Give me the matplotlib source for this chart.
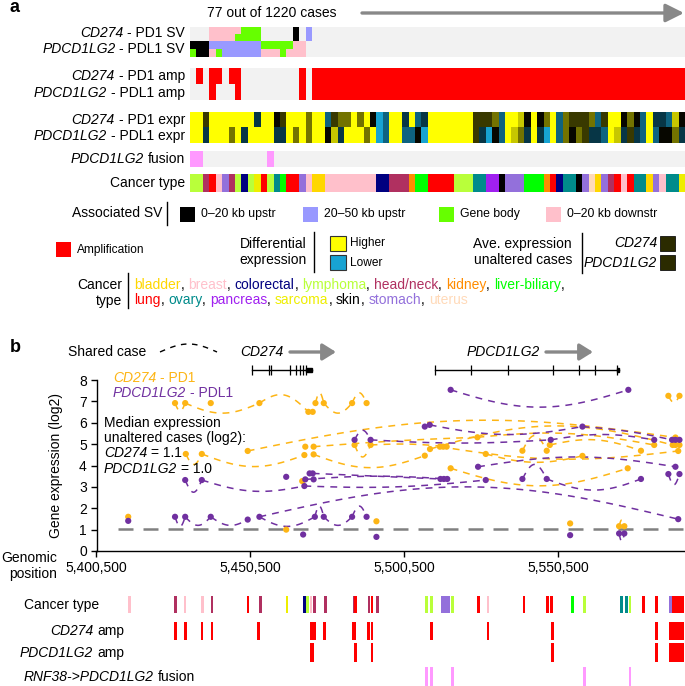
import numpy as np
import matplotlib
matplotlib.use("Agg")
import matplotlib.pyplot as plt
from matplotlib.colors import LinearSegmentedColormap, to_rgb
from matplotlib.patches import Rectangle, FancyArrowPatch
from matplotlib.lines import Line2D

plt.rcParams['font.family'] = ['Liberation Sans', 'DejaVu Sans']
plt.rcParams['font.size'] = 10

# ---------------- panel a data (77 cases) ----------------
n_cases = 77
# SV rows, two half-rows per gene: . none, k 0-20kb upstr, b 20-50kb upstr, g gene body, p 0-20kb downstr
cd274_sv_top = "...pppppggg.....k.b"
cd274_sv_bot = "...ppppgggg.....k.b"
pdcd_sv_top = "kkkbbbbbbbbgggggpp"
pdcd_sv_bot = "gkkpgbbbbbbpppgppp"
cd274_amp = ".r.rr.rr.........r." + "r" * 58
pdcd_amp = "...r...r.........r." + "r" * 58
# expression levels: Y high ... k average ... c low
cd274_expr = "YYdYYYYYYY" "nYYkdYYYoY" "YtdooYoYkc" "tYYnYtnYYY" "YYYYdddotY" "YykYkoYtod" "ddotdYYkok" "tYnntyk"
pdcd_expr = "YYnYYYoYnY" "YYYnnYoYoY" "YkynYYYoYc" "tYYttkcYYY" "YYYYdncktY" "yonYncYtok" "odnntYyndn" "tYtkkon"
expr_level = {'Y': 1.0, 'y': 0.78, 'o': 0.45, 'd': 0.22, 'k': 0.03, 'n': -0.3, 't': -0.55, 'c': -0.9}
ave_expr_cd274 = 0.17
ave_expr_pdcd = 0.17
fusion_cases = [0, 1, 12]
cancer_type = ("lym lym hn lun bre sto hn lym col lym sar lun lym ova liv lun lun sto bre bla bla "
               "bre bre bre bre bre bre bre bre col col hn hn hn kid liv liv lun lun lun lun lym lym lym "
               "ova ova pan pan ski sto sto sto liv liv liv kid lun col ova ova ski sto ute bla sto hn lun "
               "bre lun ova ova bla sto bre ova ova sar").split()

cancer_names = {'bla': 'bladder', 'bre': 'breast', 'col': 'colorectal', 'lym': 'lymphoma',
                'hn': 'head/neck', 'kid': 'kidney', 'liv': 'liver-biliary', 'lun': 'lung',
                'ova': 'ovary', 'pan': 'pancreas', 'sar': 'sarcoma', 'ski': 'skin',
                'sto': 'stomach', 'ute': 'uterus'}
cancer_colors = {'bla': '#FFD700', 'bre': '#FFC0CB', 'col': '#000080', 'lym': '#B9FF3A',
                 'hn': '#B03060', 'kid': '#FF8C00', 'liv': '#00FF00', 'lun': '#FF0000',
                 'ova': '#008B8B', 'pan': '#A020F0', 'sar': '#EEEE00', 'ski': '#000000',
                 'sto': '#9370DB', 'ute': '#FFDAB9'}
sv_colors = {'.': '#F2F2F2', 'k': '#000000', 'b': '#9999FF', 'g': '#66FF00', 'p': '#FFC0CB'}
sv_legend = [('k', '0\u201320 kb upstr'), ('b', '20\u201350 kb upstr'), ('g', 'Gene body'), ('p', '0\u201320 kb downstr')]

# ---------------- panel b data ----------------
x_min, x_max = 5400500, 5591600
x_ticks = [5400500, 5450500, 5500500, 5550500]
median_line = 1.05
cd274_pos = [5410800, 5426000, 5429300, 5437600, 5453400, 5469300, 5470700, 5471600, 5474300, 5483500, 5488200,
             5429500, 5434700, 5449600, 5468000, 5468300, 5471000, 5471000, 5484300, 5489500, 5467300, 5462100, 5491400,
             5586200, 5589800, 5524200, 5508800, 5512000, 5513100, 5514200, 5507100, 5526900, 5515500, 5538800, 5546700,
             5547700, 5558300, 5577300, 5581600, 5587600, 5588500, 5589800, 5588500, 5589400, 5573000, 5554300, 5570200, 5571900]
cd274_val = [1.60, 6.92, 6.92, 6.92, 6.92, 6.51, 6.51, 6.92, 6.92, 6.92, 6.92,
             4.54, 4.54, 4.68, 4.49, 4.88, 4.88, 4.52, 4.96, 4.96, 3.27, 1.00, 1.39,
             7.26, 7.26, 5.32, 4.77, 4.88, 4.88, 4.88, 4.46, 4.54, 3.87, 4.69, 4.69,
             4.96, 4.45, 4.69, 4.96, 4.96, 4.96, 4.96, 5.31, 4.68, 3.87, 1.29, 1.16, 1.16]
pdcd_pos = [5410800, 5426000, 5429300, 5437600, 5449600, 5453400, 5429300, 5434700, 5462100, 5469700, 5470700,
            5468300, 5471000, 5468000, 5471400, 5474300, 5483500, 5488200, 5467600, 5491400, 5484300, 5489500,
            5515500, 5573200, 5507100, 5508700, 5558300, 5548000, 5581600, 5587400, 5588500, 5589800, 5524400,
            5588500, 5512200, 5513300, 5514400, 5526900, 5538800, 5546700, 5577300, 5586200, 5589800, 5589400,
            5554300, 5570200, 5571900]
pdcd_val = [1.41, 1.60, 1.60, 1.60, 1.47, 1.60, 3.32, 3.32, 3.47, 3.63, 3.63,
            3.35, 3.35, 3.04, 1.60, 1.60, 1.60, 1.60, 0.77, 0.66, 5.20, 5.20,
            7.54, 7.54, 5.82, 5.90, 5.82, 5.20, 5.20, 5.20, 5.20, 5.20, 3.94,
            3.94, 3.37, 3.37, 3.37, 3.32, 3.37, 3.37, 3.37, 3.60, 3.60, 1.49,
            0.74, 0.82, 0.82]
# shared-case links: (pos1, val1, pos2, val2, value at the middle of the arc)
cd274_arcs = [(5426000, 6.92, 5429300, 6.92, 6.55), (5429300, 6.92, 5453400, 6.92, 6.45),
              (5453400, 6.92, 5469300, 6.51, 7.30), (5471600, 6.92, 5474300, 6.92, 7.40),
              (5474300, 6.92, 5483500, 6.92, 6.45), (5483500, 6.92, 5488200, 6.92, 7.40),
              (5429500, 4.54, 5434700, 4.54, 4.05), (5434700, 4.54, 5468000, 4.49, 3.95),
              (5449600, 4.68, 5588500, 5.31, 6.10), (5471000, 4.88, 5524200, 5.32, 5.15),
              (5524200, 5.32, 5581600, 4.96, 5.50), (5508800, 4.77, 5587600, 4.96, 5.85),
              (5538800, 4.69, 5546700, 4.69, 5.40), (5515500, 3.87, 5573000, 3.87, 3.05),
              (5471000, 4.52, 5507100, 4.46, 3.90), (5489500, 4.96, 5514200, 4.88, 5.00),
              (5484300, 4.96, 5489500, 4.96, 4.40), (5526900, 4.54, 5558300, 4.45, 4.15),
              (5547700, 4.96, 5577300, 4.69, 5.20), (5586200, 7.26, 5589800, 7.26, 6.95),
              (5570200, 1.16, 5571900, 1.16, 1.45), (5512000, 4.88, 5589400, 4.68, 4.30)]
pdcd_arcs = [(5515500, 7.54, 5573200, 7.54, 6.73), (5508700, 5.90, 5558300, 5.82, 5.45),
             (5558300, 5.82, 5587400, 5.20, 5.60), (5484300, 5.20, 5489500, 5.20, 5.65),
             (5489500, 5.20, 5548000, 5.20, 5.05), (5548000, 5.20, 5581600, 5.20, 5.45),
             (5524400, 3.94, 5588500, 3.94, 4.40), (5470700, 3.63, 5512200, 3.37, 3.50),
             (5468000, 3.04, 5526900, 3.32, 3.00), (5538800, 3.37, 5546700, 3.37, 4.05),
             (5546700, 3.37, 5577300, 3.37, 2.85), (5586200, 3.60, 5589800, 3.60, 3.10),
             (5570200, 0.82, 5571900, 0.82, 0.45), (5453400, 1.60, 5589400, 1.49, 3.00),
             (5434700, 3.32, 5468000, 3.04, 2.80), (5429300, 3.32, 5434700, 3.32, 2.75),
             (5426000, 1.60, 5429300, 1.60, 1.15), (5429300, 1.60, 5437600, 1.60, 1.20),
             (5437600, 1.60, 5449600, 1.47, 1.20), (5453400, 1.60, 5471400, 1.60, 1.15),
             (5471400, 1.60, 5474300, 1.60, 2.10), (5474300, 1.60, 5483500, 1.60, 1.20),
             (5483500, 1.60, 5488200, 1.60, 2.10), (5468300, 3.35, 5514400, 3.37, 3.50)]
cd274_gene = (5450856, 5470400)
cd274_exons = [5450856, 5456420, 5457260, 5463280, 5465400, 5466570, 5467540, 5468550]
pdcd_gene = (5510350, 5570200)
pdcd_exons = [5510350, 5522190, 5534200, 5548610, 5557160, 5562440, 5569560]
ct_track_pos = [5411200, 5426200, 5429200, 5434900, 5438000, 5449700, 5453700, 5462300, 5468000, 5469100,
                5470100, 5471300, 5474800, 5484100, 5484700, 5489000, 5490000, 5491800, 5507600, 5509300,
                5512800, 5513900, 5514900, 5516100, 5524600, 5527600, 5539300, 5547000, 5548200, 5555000,
                5559000, 5571000, 5572700, 5573700, 5578100, 5582400, 5586800, 5587800, 5588800, 5589800, 5590800]
ct_track_type = ['bre', 'hn', 'bre', 'bre', 'hn', 'lun', 'hn', 'sar', 'col', 'lym',
                 'bre', 'hn', 'hn', 'hn', 'lun', 'hn', 'lun', 'hn', 'lym', 'lym',
                 'sto', 'sto', 'sto', 'lym', 'lun', 'bre', 'lun', 'lun', 'lun', 'liv',
                 'lym', 'ova', 'ova', 'lym', 'lun', 'lun', 'sto', 'lun', 'lun', 'lun', 'lun']
cd274_amp_pos = [5426200, 5429400, 5434700, 5438000, 5453200, 5470100, 5470800, 5471500, 5474600, 5483900,
                 5484500, 5488800, 5490000, 5509300, 5527600, 5548500, 5582400, 5586800, 5587800, 5588800,
                 5589800, 5590800]
pdcd_amp_pos = [5470100, 5470800, 5484700, 5490000, 5548500, 5582400, 5586800, 5587800, 5588800, 5589800, 5590800]
rnf38_fusion_pos = [5507600, 5509300, 5516100, 5559000, 5573800]

orange = '#FDB515'
purple = '#7030A0'
amp_red = '#FF0000'
fusion_pink = '#FF99FF'
bg = '#F2F2F2'
expr_cmap = LinearSegmentedColormap.from_list('expr', [(0, '#1AB4E8'), (0.5, '#000000'), (1, '#FFFF00')])

# ---------------- helpers (pixel layout) ----------------
W, H = 685, 686
fig = plt.figure(figsize=(W / 100, H / 100), dpi=100)
renderer = fig.canvas.get_renderer()


def fx(x):
    return x / W


def fy(y):
    return 1 - y / H


def box(x0, y0, x1, y1):
    return fig.add_axes([fx(x0), fy(y1), (x1 - x0) / W, (y1 - y0) / H])


def rect(x0, y0, x1, y1, fc, ec='none', lw=0.6):
    fig.add_artist(Rectangle((fx(x0), fy(y1)), (x1 - x0) / W, (y1 - y0) / H,
                             transform=fig.transFigure, facecolor=fc, edgecolor=ec, lw=lw))


def vline(x, y0, y1, lw=1.0):
    fig.add_artist(Line2D([fx(x), fx(x)], [fy(y0), fy(y1)], transform=fig.transFigure, color='black', lw=lw))


def arrow(x0, x1, y, hl, hw):
    fig.add_artist(FancyArrowPatch((fx(x0), fy(y)), (fx(x1), fy(y)), transform=fig.transFigure,
                                   arrowstyle=f'-|>,head_length={hl},head_width={hw}', mutation_scale=10,
                                   color='#888888', lw=2.4, shrinkA=0, shrinkB=0))


def label(x, y, s, **kw):
    kw.setdefault('va', 'center')
    return fig.text(fx(x), fy(y), s, **kw)


def width_of(s, **kw):
    t = fig.text(0, 0, s, **kw)
    w = t.get_window_extent(renderer).width
    t.remove()
    return w


def rich(x, y, parts, ha='left', **kw):
    # parts: (text, fontstyle); consecutive parts are separated by one space
    texts = [label(x, y, s, ha='left', fontstyle=st, **kw) for s, st in parts]
    sp = width_of('a a', **kw) - width_of('aa', **kw)
    widths = [t.get_window_extent(renderer).width for t in texts]
    total = sum(widths) + sp * (len(parts) - 1)
    x0 = x - total if ha == 'right' else x
    for t, w in zip(texts, widths):
        t.set_x(fx(x0))
        x0 += w + sp


def gene_label(gene, rest):
    return [(gene, 'italic'), (rest, 'normal')]


def track(y0, y1, rows, **kw):
    ax = box(190, y0, 685, y1)
    ax.imshow(np.array(rows), aspect='auto', interpolation='nearest',
              extent=(0, n_cases, len(rows), 0), **kw)
    ax.set_xlim(0, n_cases)
    ax.set_ylim(len(rows), 0)
    ax.axis('off')
    return ax


# ---------------- panel a ----------------
label(10, 7, 'a', fontsize=13, fontweight='bold', ha='left')
label(272, 13, '77 out of 1220 cases', ha='center')
arrow(362, 684, 13, 1.1, 0.55)

sv_rows = [[to_rgb(sv_colors[c]) for c in s.ljust(n_cases, '.')]
           for s in (cd274_sv_top, cd274_sv_bot, pdcd_sv_top, pdcd_sv_bot)]
track(26.7, 56.7, sv_rows)
amp_rows = [[to_rgb(amp_red) if c == 'r' else to_rgb(bg) for c in s] for s in (cd274_amp, pdcd_amp)]
track(68.3, 100, amp_rows)
expr_rows = [[expr_level[c] for c in s] for s in (cd274_expr, pdcd_expr)]
track(112.3, 143.3, expr_rows, cmap=expr_cmap, vmin=-1, vmax=1)
fus_rows = [[to_rgb(fusion_pink) if i in fusion_cases else to_rgb(bg) for i in range(n_cases)]]
track(150.7, 166.7, fus_rows)
ct_rows = [[to_rgb(cancer_colors[c]) for c in cancer_type]]
track(174, 192.3, ct_rows)

row_labels = [(33, 'CD274', '- PD1 SV'), (49, 'PDCD1LG2', '- PDL1 SV'),
              (76, 'CD274', '- PD1 amp'), (93, 'PDCD1LG2', '- PDL1 amp'),
              (120, 'CD274', '- PD1 expr'), (136, 'PDCD1LG2', '- PDL1 expr'),
              (159, 'PDCD1LG2', 'fusion')]
for yy, g, s in row_labels:
    rich(185, yy, gene_label(g, s), ha='right')
label(185, 183, 'Cancer type', ha='right')

# legends
label(162, 213, 'Associated SV', ha='right')
vline(167, 202, 225)
for (code, txt), xx in zip(sv_legend, [180, 303, 439, 546]):
    rect(xx, 207, xx + 15, 222, sv_colors[code])
    label(xx + 21, 214, txt, fontsize=8.8, ha='left')

rect(56, 242, 71, 257, amp_red)
label(77, 250, 'Amplification', fontsize=8.6, ha='left')

label(307, 252, 'Differential\nexpression', ha='right', linespacing=1.15)
vline(314, 232, 272)
rect(330, 236, 346, 251, expr_cmap(1.0), ec='#333333', lw=0.8)
rect(330, 255, 346, 270, expr_cmap(0.05), ec='#333333', lw=0.8)
label(350, 243, 'Higher', fontsize=8.6, ha='left')
label(350, 263, 'Lower', fontsize=8.6, ha='left')

label(572, 252, 'Ave. expression\nunaltered cases', ha='right', linespacing=1.15)
vline(582, 233, 273)
rect(660, 236, 675, 251, expr_cmap((ave_expr_cd274 + 1) / 2), ec='#111111', lw=0.6)
rect(660, 255, 675, 270, expr_cmap((ave_expr_pdcd + 1) / 2), ec='#111111', lw=0.6)
label(657, 243, 'CD274', ha='right', fontstyle='italic')
label(657, 263, 'PDCD1LG2', ha='right', fontstyle='italic')

label(122, 293, 'Cancer\ntype', ha='right', linespacing=1.15)
vline(128, 273, 308)
legend_lines = [(285, ['bla', 'bre', 'col', 'lym', 'hn', 'kid', 'liv'], True),
                (300, ['lun', 'ova', 'pan', 'sar', 'ski', 'sto', 'ute'], False)]
for yy, codes, trailing in legend_lines:
    xx = 134
    for i, code in enumerate(codes):
        t = label(xx, yy, cancer_names[code], color=cancer_colors[code], ha='left', fontsize=10)
        xx += t.get_window_extent(renderer).width
        if trailing or i < len(codes) - 1:
            t = label(xx, yy, ',', ha='left', fontsize=10)
            xx += t.get_window_extent(renderer).width + 3.9

# ---------------- panel b ----------------
label(10, 347, 'b', fontsize=13, fontweight='bold', ha='left')
label(68, 352, 'Shared case', ha='left')
tt = np.linspace(0, 1, 40)
fig.add_artist(Line2D(fx(160 + 57 * tt), fy(352 - 8 * np.sin(np.pi * tt)), transform=fig.transFigure,
                      color='black', lw=1.0, dashes=(4, 4)))
label(240, 352, 'CD274', ha='left', fontstyle='italic')
label(467, 352, 'PDCD1LG2', ha='left', fontstyle='italic')
arrow(290, 336, 352, 0.8, 0.5)
arrow(546, 593, 352, 0.8, 0.5)

gax = box(96.5, 362, 685, 378)
gax.set_xlim(x_min, x_max)
gax.set_ylim(-1, 1)
gax.axis('off')
for (g0, g1), exons in [(cd274_gene, cd274_exons), (pdcd_gene, pdcd_exons)]:
    gax.plot([g0, g1], [0, 0], color='black', lw=1.0)
    gax.vlines(exons, -0.62, 0.62, color='black', lw=0.9)
gax.add_patch(Rectangle((cd274_exons[-1], -0.3), cd274_gene[1] - cd274_exons[-1], 0.6, color='black'))
gax.add_patch(Rectangle((pdcd_exons[-1], -0.3), pdcd_gene[1] - pdcd_exons[-1], 0.6, color='black'))

ax = box(96.5, 380, 685, 551)
ax.set_xlim(x_min, x_max)
ax.set_ylim(0, 8)
for sp in ['top', 'right']:
    ax.spines[sp].set_visible(False)
ax.spines['left'].set_linewidth(1.0)
ax.spines['bottom'].set_linewidth(1.0)
ax.set_xticks(x_ticks)
ax.set_xticklabels([f'{v:,}' for v in x_ticks])
ax.set_yticks(range(0, 9))
ax.tick_params(length=4, width=1.0, labelsize=10, pad=3)
ax.set_ylabel('Gene expression (log2)', fontsize=10)
ax.yaxis.set_label_coords(-0.057, 0.5)
ax.hlines(median_line, 5407500, x_max, color='#808080', lw=1.8, linestyles=(0, (6, 4)), zorder=1)


def arc(x1, y1, x2, y2, ym, color):
    t = np.linspace(0, 1, 80)
    xs = x1 + (x2 - x1) * t
    ys = y1 + (y2 - y1) * t + (ym - (y1 + y2) / 2) * np.sin(np.pi * t)
    ax.plot(xs, ys, color=color, lw=1.1, dashes=(4.5, 4), zorder=2)


for a in cd274_arcs:
    arc(*a, orange)
for a in pdcd_arcs:
    arc(*a, purple)
ax.scatter(cd274_pos, cd274_val, s=20, color=orange, edgecolors='none', zorder=3)
ax.scatter(pdcd_pos, pdcd_val, s=20, color=purple, edgecolors='none', zorder=3)

rich(113, 378, gene_label('CD274', '- PD1'), color=orange)
rich(113, 393, gene_label('PDCD1LG2', '- PDL1'), color=purple)
label(104, 423, 'Median expression', ha='left')
label(104, 438, 'unaltered cases (log2):', ha='left')
rich(104, 453, gene_label('CD274', '= 1.1'))
rich(104, 469, gene_label('PDCD1LG2', '= 1.0'))
label(57, 566, 'Genomic\nposition', ha='right', linespacing=1.15)

# bottom tracks
bar_w = 850
tracks = [((596, 613.3), ct_track_pos, [cancer_colors[c] for c in ct_track_type]),
          ((621.7, 640), cd274_amp_pos, amp_red),
          ((643.3, 661.7), pdcd_amp_pos, amp_red),
          ((667.3, 686), rnf38_fusion_pos, fusion_pink)]
for (y0, y1), pos, col in tracks:
    tax = box(96.5, y0, 685, y1)
    tax.set_xlim(x_min, x_max)
    tax.set_ylim(0, 1)
    tax.bar(pos, 1, width=bar_w, bottom=0, color=col, linewidth=0)
    tax.axis('off')

label(24, 605, 'Cancer type', ha='left')
rich(124, 631, gene_label('CD274', 'amp'), ha='right')
rich(124, 653, gene_label('PDCD1LG2', 'amp'), ha='right')
rich(24, 677, gene_label('RNF38->PDCD1LG2', 'fusion'))

fig.savefig('out.png', dpi=100)
